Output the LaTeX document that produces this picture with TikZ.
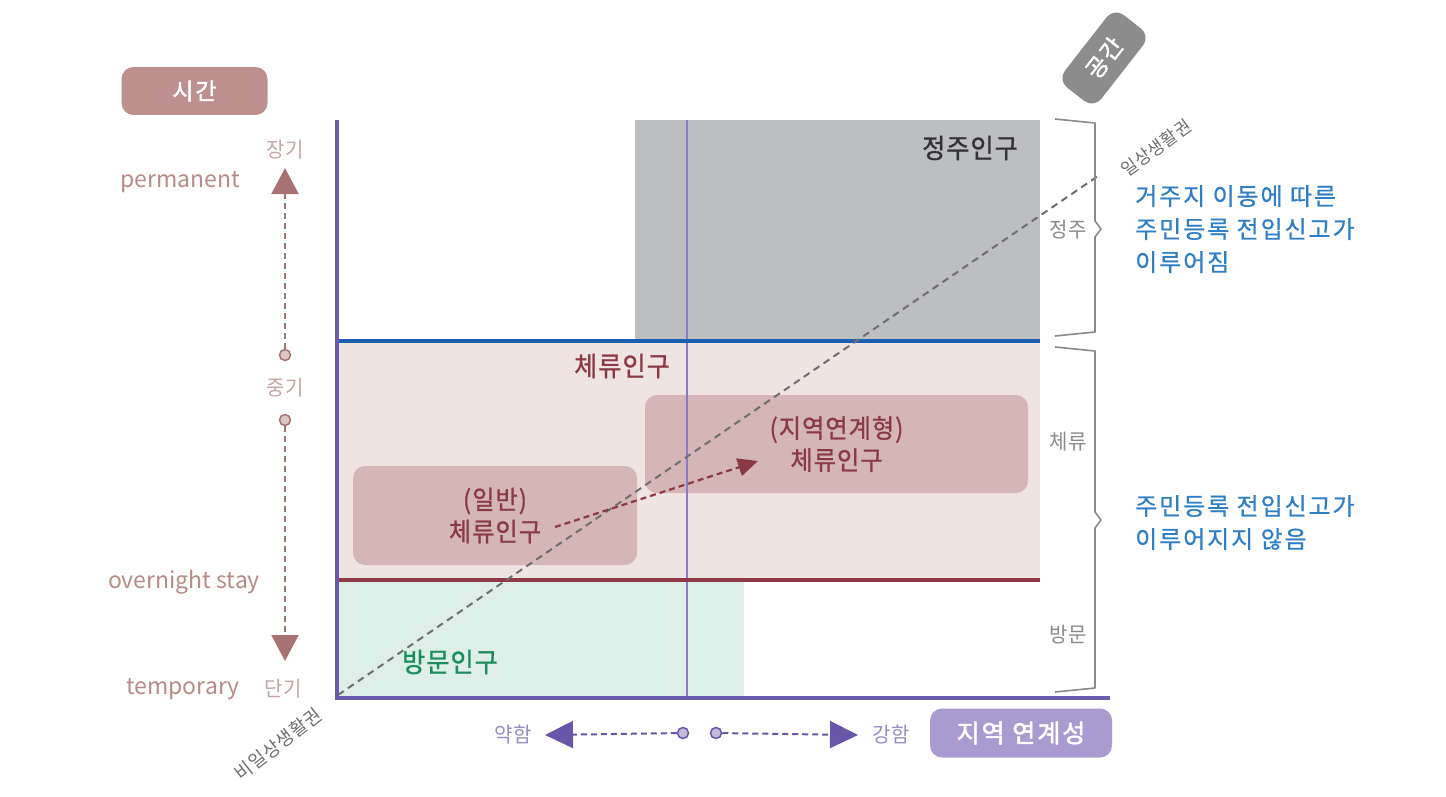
\documentclass[tikz,border=0pt]{standalone}
\usepackage{fontspec}
\setmainfont{Noto Sans CJK KR}
\newfontfamily\krs{Noto Sans CJK KR}[LetterSpace=4, FakeStretch=0.95]
\newfontfamily\krmed{Noto Sans CJK KR}[LetterSpace=4, FakeStretch=0.93, FakeBold=1]
\newfontfamily\krblue{Noto Sans CJK KR}[LetterSpace=8, FakeBold=0.7]
\newfontfamily\krbold{Noto Sans CJK KR}[LetterSpace=8, FakeBold=2]
\usetikzlibrary{arrows.meta}
\definecolor{axispurple}{HTML}{6B5BB0}
\definecolor{thinpurple}{HTML}{8A7CC2}
\definecolor{grayreg}{HTML}{BDBEC2}
\definecolor{bluel}{HTML}{1D5FAE}
\definecolor{pinkreg}{HTML}{F0E4E3}
\definecolor{redl}{HTML}{8E3B47}
\definecolor{greenreg}{HTML}{DDEFE8}
\definecolor{boxfill}{HTML}{D4B6B6}
\definecolor{darkred}{HTML}{8B3A45}
\definecolor{greentext}{HTML}{1C8C5E}
\definecolor{diag}{HTML}{6E6E6E}
\definecolor{rose}{HTML}{A87272}
\definecolor{roselabel}{HTML}{B88C86}
\definecolor{roselight}{HTML}{C4A6A6}
\definecolor{bluetext}{HTML}{2F7FC6}
\definecolor{timebox}{HTML}{BE8F8F}
\definecolor{regbox}{HTML}{A99BD0}
\definecolor{botarrow}{HTML}{6A56A8}
\definecolor{botlabel}{HTML}{9A8CC8}
\definecolor{kongbox}{HTML}{8C8C8C}
\definecolor{bracecol}{HTML}{8A8A8A}
\begin{document}
\begin{tikzpicture}[x=1pt,y=-1pt,
  popbox/.style={fill=boxfill, rounded corners=12pt, inner sep=0pt, align=center, text=darkred, font=\krmed\fontsize{26}{32}\selectfont},
  biglabel/.style={font=\krmed\fontsize{27}{30}\selectfont, inner sep=0pt},
  timelabel/.style={font=\fontsize{23}{26}\selectfont, text=roselabel, inner sep=0pt},
  smalllabel/.style={font=\krs\fontsize{21}{23}\selectfont, inner sep=0pt},
  bluenote/.style={font=\krblue\fontsize{24}{33}\selectfont, text=bluetext, align=left, inner sep=0pt, anchor=north west},
  tagbox/.style={rounded corners=12pt, text=white, font=\krbold\fontsize{23}{26}\selectfont, inner sep=0pt},
  dot/.style={circle, draw=#1, fill=white!60!#1, line width=1.5pt, minimum size=11pt, inner sep=0pt},
  bracepath/.style={draw=bracecol, line width=1.6pt, line join=round},
]
\useasboundingbox (0,0) rectangle (1446,797);

% regions
\fill[grayreg] (635,120) rectangle (1040,340);
\fill[pinkreg] (337,342) rectangle (1040,580);
\fill[greenreg] (337,580) rectangle (744,697);

% population boxes
\node[popbox, minimum width=284pt, minimum height=99pt] (gen) at (495,515.5) {(일반)\\체류인구};
\node[popbox, minimum width=383pt, minimum height=98pt] (reg) at (836.5,444) {(지역연계형)\\체류인구};

% lines
\draw[thinpurple, line width=2pt] (687,120) -- (687,697);
\draw[bluel, line width=4pt] (337,341) -- (1040,341);
\draw[redl, line width=4pt] (337,580) -- (1040,580);
\draw[axispurple, line width=4pt, line join=miter] (337,120) -- (337,698) -- (1110,698);

% diagonal
\coordinate (d0) at (338,695);
\coordinate (d1) at (1098,176);
\draw[diag, line width=2pt, dash pattern=on 7pt off 5pt] (d0) -- (d1);

% arrow between boxes
\coordinate (a0) at (555,527);
\coordinate (a1) at (758,461);
\draw[darkred, line width=2.2pt, dash pattern=on 6pt off 4pt, -{Triangle[length=20pt,width=18pt]}] (a0) -- (a1);

% region labels
\node[biglabel, text=black!80] (jeongju) at (970,148) {정주인구};
\node[biglabel, text=darkred] (cheryu) at (622,366) {체류인구};
\node[biglabel, text=greentext] (bangmun) at (450,662) {방문인구};

% diagonal labels
\node[smalllabel, text=diag, rotate=36, font=\krs\fontsize{18}{20}\selectfont] (ilsang) at (1156,148) {일상생활권};
\node[smalllabel, text=diag, rotate=38, font=\krs\fontsize{19}{20}\selectfont] (biilsang) at (278,744) {비일상생활권};

% braces
\draw[bracepath] (1055,119) -- (1095,123) -- (1095,221) -- (1101,229) -- (1095,237) -- (1095,332) -- (1055,336);
\draw[bracepath] (1055,347) -- (1095,351) -- (1095,512) -- (1101,520) -- (1095,528) -- (1095,688) -- (1055,692);
\node[smalllabel, text=bracecol] (bj) at (1068,230) {정주};
\node[smalllabel, text=bracecol] (bc) at (1068,442) {체류};
\node[smalllabel, text=bracecol] (bb) at (1068,635) {방문};

% blue notes
\node[bluenote] (note1) at (1135,185) {거주지 이동에 따른\\주민등록 전입신고가\\이루어짐};
\node[bluenote] (note2) at (1135,495) {주민등록 전입신고가\\이루어지지 않음};

% time axis
\node[tagbox, fill=timebox, minimum width=146pt, minimum height=48pt] (sigan) at (194.5,91) {시간};
\node[smalllabel, text=roselight] (janggi) at (285,150) {장기};
\node[timelabel] (perm) at (180,182) {permanent};
\node[dot=rose] (c1) at (285,355) {};
\node[smalllabel, text=roselight] (junggi) at (285,388) {중기};
\node[dot=rose] (c2) at (285,420) {};
\coordinate (tup) at (285,168);
\coordinate (tdown) at (285,661);
\draw[rose, line width=2pt, dash pattern=on 6pt off 4pt, -{Triangle[length=26pt,width=27pt]}] (c1) -- (tup);
\draw[rose, line width=2pt, dash pattern=on 6pt off 4pt, -{Triangle[length=26pt,width=27pt]}] (c2) -- (tdown);
\node[timelabel] (overnight) at (184,582) {overnight stay};
\node[timelabel] (temp) at (183,689) {temporary};
\node[smalllabel, text=roselight] (dangi) at (283,689) {단기};

% region-link axis
\node[dot=botarrow] (c3) at (683,733) {};
\node[dot=botarrow] (c4) at (716,733) {};
\coordinate (tleft) at (545,735);
\coordinate (tright) at (858,735);
\draw[botarrow, line width=2pt, dash pattern=on 6pt off 4pt, -{Triangle[length=28pt,width=27pt]}] (c3) -- (tleft);
\draw[botarrow, line width=2pt, dash pattern=on 6pt off 4pt, -{Triangle[length=28pt,width=27pt]}] (c4) -- (tright);
\node[smalllabel, text=botlabel] (weak) at (513,735) {약함};
\node[smalllabel, text=botlabel] (strong) at (891,735) {강함};
\node[tagbox, fill=regbox, minimum width=182pt, minimum height=49pt, font=\krbold\fontsize{25}{28}\selectfont] (yeongye) at (1021,733) {지역 연계성};

% space tag
\node[tagbox, fill=kongbox, rotate=52, minimum width=92pt, minimum height=46pt] (konggan) at (1104,58) {공간};
\end{tikzpicture}
\end{document}
